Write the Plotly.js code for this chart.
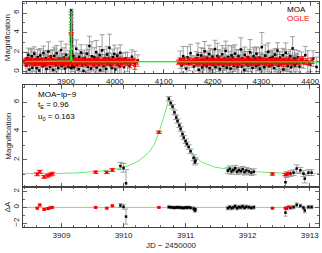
<!DOCTYPE html>
<html><head><meta charset="utf-8">
<script src="https://cdn.plot.ly/plotly-3.0.1.min.js"></script>
<style>html,body{margin:0;padding:0;background:#fff}#c{width:322px;height:253px}</style>
</head><body><div id="c"></div>
<script>
// ---- MOA baseline, season 1 ----
const moaT1 = [3818,3820,3821,3823,3825,3826,3828,3830,3831,3833,
3835,3837,3838,3840,3842,3843,3845,3847,3848,3850,
3852,3854,3855,3857,3859,3860,3862,3864,3866,3867,
3869,3871,3872,3874,3876,3878,3879,3881,3883,3884,
3886,3888,3890,3891,3893,3895,3896,3898,3900,3902,
3903,3905,3907,3913,3915,3917,3919,3921,3922,3924,
3926,3927,3929,3931,3933,3934,3936,3938,3939,3941,
3943,3945,3946,3948,3950,3951,3953,3955,3957,3958,
3960,3962,3963,3965,3967,3969,3970,3972,3974,3975,
3977,3979,3981,3982,3984,3986,3987,3989,3991,3993,
3994,3996,3998,3999,4001,4003,4005,4006,4008,4010,
4011,4013,4016,4019,4022,4026,4030,4035,4041,4047];
const moaA1 = [0.62,1.35,0.88,1.71,0.21,1.12,0.95,1.58,0.40,1.03,
1.84,0.73,1.21,0.35,1.47,0.98,0.12,1.66,0.81,1.29,
0.55,1.92,1.07,0.68,1.38,0.27,1.15,2.05,0.90,0.47,
1.55,0.79,1.24,0.18,1.61,1.02,0.66,1.88,0.93,0.39,
1.31,0.85,2.21,0.58,1.17,0.74,1.44,0.30,1.72,0.96,
1.09,0.51,1.36,0.82,1.63,0.44,1.21,2.35,0.71,1.05,
0.25,1.52,0.89,1.96,0.63,1.27,0.08,1.41,1.14,0.77,
1.83,0.49,1.18,2.62,0.92,0.33,1.57,1.01,0.69,1.45,
0.86,1.99,0.42,1.26,0.73,1.68,0.15,1.11,2.18,0.95,
0.57,1.39,1.04,0.28,1.75,0.81,1.33,2.44,0.64,1.16,
0.37,1.49,0.90,1.81,0.22,1.07,1.62,0.71,1.28,0.53,
1.94,0.84,1.19,0.46,1.37,0.99,0.61,1.53,0.88,1.12];
const moaE1 = [0.8,0.6,1.1,0.7,0.9,0.5,1.3,0.8,0.6,1.0,
0.7,1.2,0.5,0.9,0.8,0.6,1.0,0.7,1.4,0.6,
0.9,0.7,0.6,1.1,0.8,0.5,0.9,1.0,0.7,1.2,
0.6,0.8,1.0,0.7,0.9,1.3,0.6,0.8,0.7,1.1,
0.8,0.6,0.9,1.2,0.7,0.5,1.0,0.8,1.1,0.6,
0.7,0.9,0.8,0.6,1.0,1.2,0.7,0.9,0.6,0.8,
1.1,0.7,0.9,0.8,1.3,0.6,1.0,0.8,0.7,1.2,
0.9,0.6,1.1,1.0,0.7,0.8,1.5,0.6,0.9,1.0,
0.7,1.2,0.8,0.6,1.0,0.9,0.7,1.1,1.6,0.8,
0.6,0.9,0.7,1.0,0.8,1.1,0.6,1.4,0.9,0.7,
1.0,0.8,0.6,0.9,1.2,0.7,0.8,1.0,0.6,0.9,
0.8,1.1,0.7,0.9,0.6,1.0,0.8,0.7,1.2,0.6];
// ---- MOA baseline, season 2 ----
const moaT2 = [4134,4137,4140,4143,4146,4149,4152,4155,4158,4162,
4167,4169,4170,4172,4174,4176,4177,4179,4181,4182,
4184,4186,4188,4189,4191,4193,4194,4196,4198,4200,
4201,4203,4205,4206,4208,4210,4212,4213,4215,4217,
4218,4220,4222,4224,4225,4227,4229,4230,4232,4234,
4236,4237,4239,4241,4242,4244,4246,4248,4249,4251,
4253,4254,4256,4258,4260,4261,4263,4265,4266,4268,
4270,4272,4273,4275,4277,4278,4280,4282,4284,4285,
4287,4289,4290,4292,4294,4296,4297,4299,4301,4302,
4304,4306,4308,4309,4311,4313,4314,4316,4318,4320,
4321,4323,4325,4326,4328,4330,4332,4333,4335,4337,
4338,4340,4342,4344,4345,4347,4349,4350,4352,4354,
4356,4357,4359,4361,4362,4364,4366,4368,4369,4371,
4373,4375,4378,4382,4386,4390,4395,4400,4406,4413];
const moaA2 = [1.21,0.64,1.58,0.93,0.31,1.46,0.78,1.89,1.05,0.52,
1.34,0.87,1.72,0.19,1.13,0.96,1.65,0.43,1.27,0.71,
2.08,0.99,0.56,1.41,0.83,1.79,0.34,1.17,0.91,1.53,
0.68,1.25,2.31,0.47,1.02,1.61,0.79,1.36,0.26,1.11,
0.94,1.77,0.59,1.31,0.85,2.12,0.41,1.08,1.49,0.73,
1.19,0.32,1.66,0.97,1.42,0.61,1.85,0.88,1.23,0.49,
1.56,0.76,1.03,2.27,0.54,1.38,0.92,0.17,1.71,1.06,
0.81,1.47,0.63,1.29,1.98,0.72,1.14,0.38,1.59,0.95,
1.32,0.57,1.83,1.01,0.69,1.44,0.29,1.22,2.51,0.86,
1.09,0.45,1.63,0.78,1.26,0.98,2.03,0.55,1.37,0.84,
0.67,1.51,1.12,0.36,1.74,0.89,1.28,2.16,0.61,1.05,
1.43,0.74,0.97,1.68,0.23,1.15,0.82,1.94,1.02,0.58,
1.29,0.91,1.57,0.44,1.08,2.38,0.76,1.35,0.63,1.18,
0.87,1.46,0.52,1.22,0.95,1.69,1.04,0.71,1.33,0.48];
const moaE2 = [0.9,0.7,1.0,0.6,0.8,1.1,0.7,0.9,0.6,1.0,
0.7,0.8,1.2,0.9,0.6,1.0,0.8,0.7,1.1,0.9,
1.0,0.6,0.8,0.7,1.1,0.9,0.6,1.2,0.8,0.7,
0.8,1.0,0.9,0.7,0.6,1.3,0.8,0.9,0.7,1.0,
0.6,0.9,0.8,1.1,0.7,1.0,0.9,0.6,1.2,0.8,
0.9,0.7,1.0,0.8,1.1,0.6,0.9,0.7,1.0,0.8,
0.7,1.0,0.6,1.2,0.8,0.9,1.1,0.7,0.8,1.0,
0.8,0.6,0.9,1.0,1.3,0.7,0.8,1.1,0.9,0.6,
1.0,0.8,0.7,0.9,0.6,1.0,0.8,0.7,1.5,0.9,
0.7,0.9,1.1,0.6,0.8,1.0,0.9,0.7,0.8,1.2,
0.9,0.7,0.8,1.0,0.6,0.9,1.1,0.8,0.7,1.0,
0.6,1.0,0.8,0.7,0.9,1.1,0.7,1.0,0.8,0.6,
0.8,0.9,0.7,1.0,0.6,1.2,0.8,0.9,1.0,0.7,
0.9,0.7,1.0,0.8,0.6,0.9,1.1,0.7,0.8,1.0];
// ---- OGLE baseline ----
const ogleT1 = [3815,3817,3819,3821,3824,3826,3828,3830,3833,3835,
3837,3839,3842,3844,3846,3848,3851,3853,3855,3857,
3860,3862,3864,3866,3869,3871,3873,3875,3878,3880,
3882,3884,3887,3889,3891,3893,3896,3898,3900,3902,
3905,3908,3914,3916,3918,3921,3923,3925,3927,3930,
3932,3934,3936,3939,3941,3943,3945,3948,3950,3952,
3954,3957,3959,3961,3963,3966,3968,3970,3972,3975,
3977,3979,3981,3984,3986,3988,3990,3993,3995,3997,
3999,4002,4004,4006,4008,4011,4013,4015,4017,4020,
4022,4024,4026,4029,4031,4033,4035,4038,4041,4045];
const ogleA1 = [1.05,0.92,1.18,0.86,1.11,0.97,1.24,0.89,1.02,1.14,
0.83,1.09,0.95,1.21,0.88,1.03,1.16,0.79,1.07,0.94,
1.12,0.87,1.01,1.26,0.91,1.08,0.84,1.17,0.98,1.05,
0.93,1.19,0.85,1.04,1.13,0.90,1.22,0.96,1.06,0.82,
1.15,0.99,1.08,0.87,1.20,0.94,1.03,1.11,0.81,1.07,
0.96,1.23,0.89,1.02,1.14,0.86,1.10,0.97,1.18,0.92,
1.04,0.84,1.16,0.95,1.09,1.27,0.88,1.01,0.93,1.12,
0.90,1.06,1.21,0.83,1.00,1.15,0.94,1.08,0.78,1.13,
1.02,0.91,1.17,0.87,1.05,1.24,0.95,0.80,1.10,0.97,
1.19,0.85,1.03,1.12,0.74,1.07,0.92,1.16,0.62,1.01];
const ogleE1 = [0.20,0.25,0.18,0.30,0.22,0.27,0.20,0.24,0.32,0.19,
0.26,0.21,0.29,0.17,0.23,0.31,0.20,0.28,0.22,0.25,
0.19,0.27,0.22,0.30,0.18,0.24,0.29,0.21,0.26,0.20,
0.28,0.20,0.25,0.19,0.31,0.23,0.18,0.27,0.22,0.30,
0.21,0.26,0.20,0.29,0.24,0.18,0.27,0.22,0.31,0.19,
0.25,0.20,0.28,0.23,0.19,0.30,0.21,0.26,0.18,0.24,
0.22,0.29,0.19,0.25,0.27,0.20,0.31,0.23,0.18,0.26,
0.30,0.21,0.24,0.19,0.28,0.22,0.26,0.20,0.33,0.23,
0.19,0.27,0.22,0.30,0.18,0.25,0.21,0.29,0.24,0.20,
0.26,0.23,0.19,0.28,0.35,0.21,0.27,0.22,0.38,0.24];
const ogleT2 = [4130,4133,4136,4139,4142,4145,4149,4152,4156,4160,
4163,4165,4167,4169,4172,4174,4176,4178,4181,4183,
4185,4187,4190,4192,4194,4196,4199,4201,4203,4205,
4208,4210,4212,4214,4217,4219,4221,4223,4226,4228,
4230,4232,4235,4237,4239,4241,4244,4246,4248,4250,
4253,4255,4257,4259,4262,4264,4266,4268,4271,4273,
4275,4277,4280,4282,4284,4286,4289,4291,4293,4295,
4298,4300,4302,4304,4307,4309,4311,4313,4316,4318,
4320,4322,4325,4327,4329,4331,4334,4336,4338,4340,
4343,4345,4347,4349,4352,4354,4356,4358,4361,4363,
4365,4368,4372,4376,4380,4384,4388,4393,4398,4404];
const ogleA2 = [0.97,1.13,0.88,1.06,1.21,0.92,1.02,1.17,0.85,1.09,
1.01,0.90,1.19,0.96,1.08,0.83,1.14,1.04,0.93,1.25,
0.87,1.10,0.98,1.16,0.81,1.05,1.20,0.94,1.07,0.89,
1.12,0.95,1.03,1.28,0.86,1.00,1.15,0.91,1.06,0.97,
1.18,0.84,1.09,0.99,1.23,0.90,1.04,1.13,0.80,1.11,
0.94,1.07,1.20,0.88,1.02,1.16,0.93,1.08,1.26,0.85,
1.05,0.96,1.14,0.82,1.10,1.01,0.89,1.22,0.97,1.06,
0.91,1.17,1.00,1.12,0.86,1.03,1.19,0.95,1.08,0.79,
1.13,0.98,1.06,1.24,0.92,1.01,0.87,1.15,1.04,0.96,
1.10,0.83,1.18,0.99,1.07,0.90,1.21,1.02,0.94,1.12,
0.88,1.05,1.16,0.93,1.09,1.27,0.97,1.03,0.86,1.11];
const ogleE2 = [0.22,0.27,0.19,0.30,0.24,0.20,0.28,0.23,0.18,0.26,
0.21,0.29,0.25,0.19,0.31,0.22,0.27,0.20,0.24,0.28,
0.30,0.19,0.23,0.26,0.21,0.29,0.18,0.25,0.27,0.22,
0.20,0.28,0.24,0.31,0.19,0.26,0.22,0.29,0.21,0.25,
0.27,0.20,0.30,0.23,0.18,0.28,0.25,0.21,0.32,0.24,
0.19,0.26,0.22,0.29,0.24,0.20,0.31,0.23,0.27,0.21,
0.28,0.22,0.25,0.19,0.30,0.24,0.21,0.27,0.20,0.29,
0.23,0.26,0.18,0.28,0.22,0.31,0.20,0.25,0.24,0.30,
0.21,0.27,0.23,0.19,0.29,0.22,0.26,0.20,0.28,0.24,
0.25,0.30,0.21,0.27,0.23,0.19,0.28,0.22,0.26,0.31,
0.24,0.20,0.29,0.22,0.27,0.25,0.21,0.30,0.23,0.28];
// ---- event (MOA) ----
const evT = [3909.95,3910.00,3910.04,
3910.73,3910.76,3910.79,3910.82,3910.85,3910.87,3910.90,3910.92,3910.95,3910.97,3911.00,3911.02,3911.05,3911.08,3911.13,3911.15,3911.16,
3911.68,3911.71,3911.74,3911.77,3911.80,3911.83,3911.86,3911.89,3911.92,3911.95,3911.98,3912.02,3912.06,3912.10,
3912.61,3912.63,3912.69,3912.74,3912.79,3912.85,3912.90,3912.92,3912.98,3913.03];
const evA = [1.58,1.45,0.38,
6.25,5.95,5.70,5.30,4.95,4.70,4.40,4.15,3.80,3.55,3.30,3.10,2.90,2.60,2.15,1.85,1.95,
1.25,1.38,1.20,1.30,1.42,1.18,1.29,1.22,1.35,1.15,1.27,1.20,1.12,1.18,
0.45,0.98,1.05,1.12,1.40,1.28,1.05,0.70,1.12,1.12];
const evE = [0.25,0.30,0.95,
0.15,0.15,0.15,0.15,0.15,0.15,0.15,0.15,0.15,0.15,0.15,0.15,0.15,0.15,0.20,0.20,0.20,
0.20,0.20,0.20,0.20,0.20,0.20,0.20,0.20,0.20,0.20,0.20,0.20,0.20,0.20,
0.45,0.20,0.20,0.20,0.25,0.20,0.20,0.30,0.20,0.20];
const evR = [0.24,0.08,-1.15,
0.05,0.00,0.00,-0.05,0.00,0.00,0.00,-0.03,-0.05,-0.07,0.00,-0.05,0.01,-0.06,-0.15,-0.40,-0.25,
-0.10,0.05,-0.10,0.00,0.14,-0.10,0.05,0.00,0.13,-0.05,0.08,0.02,-0.05,0.01,
-0.65,-0.10,-0.03,0.04,0.32,0.20,-0.03,-0.38,0.04,0.04];
// ---- event (OGLE) ----
const ogT = [3908.61,3908.65,3908.72,3908.78,3908.82,3908.85,3909.55,3909.73,3909.82,3910.57,3912.40,3912.61,3912.66];
const ogA = [1.00,1.18,0.82,0.90,0.98,1.04,1.15,1.13,1.30,3.92,1.02,0.98,1.04];
const ogE = [0.10,0.10,0.10,0.10,0.10,0.10,0.08,0.08,0.10,0.08,0.08,0.08,0.08];
const ogR = [-0.10,0.30,-0.25,-0.15,-0.05,0.00,0.00,-0.10,0.20,0.00,-0.10,-0.10,0.05];
// ---- model curve ----
const modT = [3790,3908.3,3908.8,3909.2,3909.6,3909.9,3910.1,3910.25,3910.4,3910.5,3910.57,3910.65,3910.73,3910.8,3910.9,3910.99,3911.06,3911.13,3911.26,3911.47,3911.79,3912.1,3912.42,3912.8,3913.2,4440];
const modA = [1.0,1.03,1.05,1.09,1.2,1.38,1.62,1.95,2.5,3.1,3.9,5.0,6.2,5.6,4.4,3.4,2.8,2.3,1.85,1.5,1.28,1.17,1.1,1.06,1.04,1.0];
const resT = [3900,3920];
const resZero = [0,0];
// ---- tick labels ----
const topTicks = [3900,4000,4100,4200,4300,4400];
const evTicks = [3909,3910,3911,3912,3913];

const FONT = 'Liberation Sans, Arial, sans-serif';
const GREY = '#8a8a8a';

const allMoaT = moaT1.concat(moaT2, evT);
const allMoaA = moaA1.concat(moaA2, evA);
const allMoaE = moaE1.concat(moaE2, evE);
const allOgT = ogleT1.concat(ogleT2, ogT);
const allOgA = ogleA1.concat(ogleA2, ogA);
const allOgE = ogleE1.concat(ogleE2, ogE);

const traces = [
  {x: allMoaT, y: allMoaA, xaxis:'x', yaxis:'y', type:'scatter', mode:'markers',
   marker:{color:'#000', size:2.5, symbol:'square'},
   error_y:{type:'data', array: allMoaE, color:GREY, thickness:0.8, width:2.5}},
  {x: allOgT, y: allOgA, xaxis:'x', yaxis:'y', type:'scatter', mode:'markers',
   marker:{color:'#f00', size:3, symbol:'square'},
   error_y:{type:'data', array: allOgE, color:'#f00', thickness:0.8, width:2.5}},
  {x: modT, y: modA, xaxis:'x', yaxis:'y', type:'scatter', mode:'lines',
   line:{color:'#22ee22', width:1.3}},
  // middle
  {x: modT, y: modA, xaxis:'x2', yaxis:'y2', type:'scatter', mode:'lines',
   line:{color:'#66ee66', width:1}},
  {x: evT, y: evA, xaxis:'x2', yaxis:'y2', type:'scatter', mode:'markers',
   marker:{color:'#000', size:2.5, symbol:'square'},
   error_y:{type:'data', array: evE, color:GREY, thickness:0.8, width:3}},
  {x: ogT, y: ogA, xaxis:'x2', yaxis:'y2', type:'scatter', mode:'markers',
   marker:{color:'#f00', size:3, symbol:'square'},
   error_y:{type:'data', array: ogE, color:'#f00', thickness:0.8, width:3}},
  // residuals
  {x: resT, y: resZero, xaxis:'x3', yaxis:'y3', type:'scatter', mode:'lines',
   line:{color:'#66ee66', width:1}},
  {x: evT, y: evR, xaxis:'x3', yaxis:'y3', type:'scatter', mode:'markers',
   marker:{color:'#000', size:2.5, symbol:'square'},
   error_y:{type:'data', array: evE, color:GREY, thickness:0.8, width:2}},
  {x: ogT, y: ogR, xaxis:'x3', yaxis:'y3', type:'scatter', mode:'markers',
   marker:{color:'#f00', size:3, symbol:'square'},
   error_y:{type:'data', array: ogE, color:'#f00', thickness:0.8, width:2}}
];

const axBase = {showline:true, linecolor:'#444', linewidth:1, mirror:'allticks', ticks:'inside',
  ticklen:4, tickcolor:'#444', tickwidth:0.8, showgrid:false, zeroline:false,
  tickfont:{family:FONT, size:8, color:'#222'}};
const mnr = (d) => ({dtick:d, ticklen:2, ticks:'inside', tickcolor:'#444'});

const layout = {
  width:322, height:253, showlegend:false,
  paper_bgcolor:'#fff', plot_bgcolor:'#fff',
  margin:{l:23, r:3, t:2, b:26},
  font:{family:FONT, size:8, color:'#222'},
  xaxis: Object.assign({}, axBase, {domain:[0,1], anchor:'y', range:[3812,4418],
    tickmode:'array', tickvals:topTicks, ticktext:topTicks.map(String), minor:mnr(20)}),
  yaxis: Object.assign({}, axBase, {domain:[0.684,1], anchor:'x', range:[-0.15,7.13], dtick:2, tick0:0, tickangle:-90,
    minor:mnr(1)}),
  xaxis2: Object.assign({}, axBase, {domain:[0,1], anchor:'y2', range:[3908.38,3913.15],
    tickmode:'array', tickvals:evTicks, showticklabels:false, minor:mnr(0.2)}),
  yaxis2: Object.assign({}, axBase, {domain:[0.1778,0.6311], anchor:'x2', range:[0.12,7.2], dtick:2, tick0:0, tickangle:-90,
    minor:mnr(1)}),
  xaxis3: Object.assign({}, axBase, {domain:[0,1], anchor:'y3', range:[3908.38,3913.15],
    tickmode:'array', tickvals:evTicks, ticktext:evTicks.map(String), minor:mnr(0.2)}),
  yaxis3: Object.assign({}, axBase, {domain:[0,0.1778], anchor:'x3', range:[-2.45,2.55], dtick:2, tick0:0, tickangle:-90,
    minor:mnr(1)}),
  annotations: [
    {text:'MOA', xref:'paper', yref:'paper', x:0.885, y:0.965, xanchor:'left', yanchor:'middle', showarrow:false, font:{family:FONT, size:8, color:'#000'}},
    {text:'OGLE', xref:'paper', yref:'paper', x:0.885, y:0.928, xanchor:'left', yanchor:'middle', showarrow:false, font:{family:FONT, size:8, color:'#f00'}},
    {text:'MOA\u2212ip\u22129', xref:'paper', yref:'paper', x:0.045, y:0.59, xanchor:'left', yanchor:'middle', showarrow:false, font:{family:FONT, size:8, color:'#000'}},
    {text:'t<sub>E</sub> = 0.96', xref:'paper', yref:'paper', x:0.045, y:0.54, xanchor:'left', yanchor:'middle', showarrow:false, font:{family:FONT, size:8, color:'#000'}},
    {text:'u<sub>0</sub> = 0.163', xref:'paper', yref:'paper', x:0.045, y:0.488, xanchor:'left', yanchor:'middle', showarrow:false, font:{family:FONT, size:8, color:'#000'}},
    {text:'Magnification', xref:'paper', yref:'paper', x:-0.052, y:0.842, xanchor:'center', yanchor:'middle', textangle:-90, showarrow:false, font:{family:FONT, size:8, color:'#222'}},
    {text:'Magnification', xref:'paper', yref:'paper', x:-0.052, y:0.404, xanchor:'center', yanchor:'middle', textangle:-90, showarrow:false, font:{family:FONT, size:8, color:'#222'}},
    {text:'\u0394A', xref:'paper', yref:'paper', x:-0.052, y:0.09, xanchor:'center', yanchor:'middle', textangle:-90, showarrow:false, font:{family:FONT, size:8, color:'#222'}},
    {text:'JD \u2212 2450000', xref:'paper', yref:'paper', x:0.5, y:-0.08, xanchor:'center', yanchor:'middle', showarrow:false, font:{family:FONT, size:8, color:'#222'}}
  ]
};
Plotly.newPlot('c', traces, layout, {staticPlot:true, displayModeBar:false});
</script></body></html>
